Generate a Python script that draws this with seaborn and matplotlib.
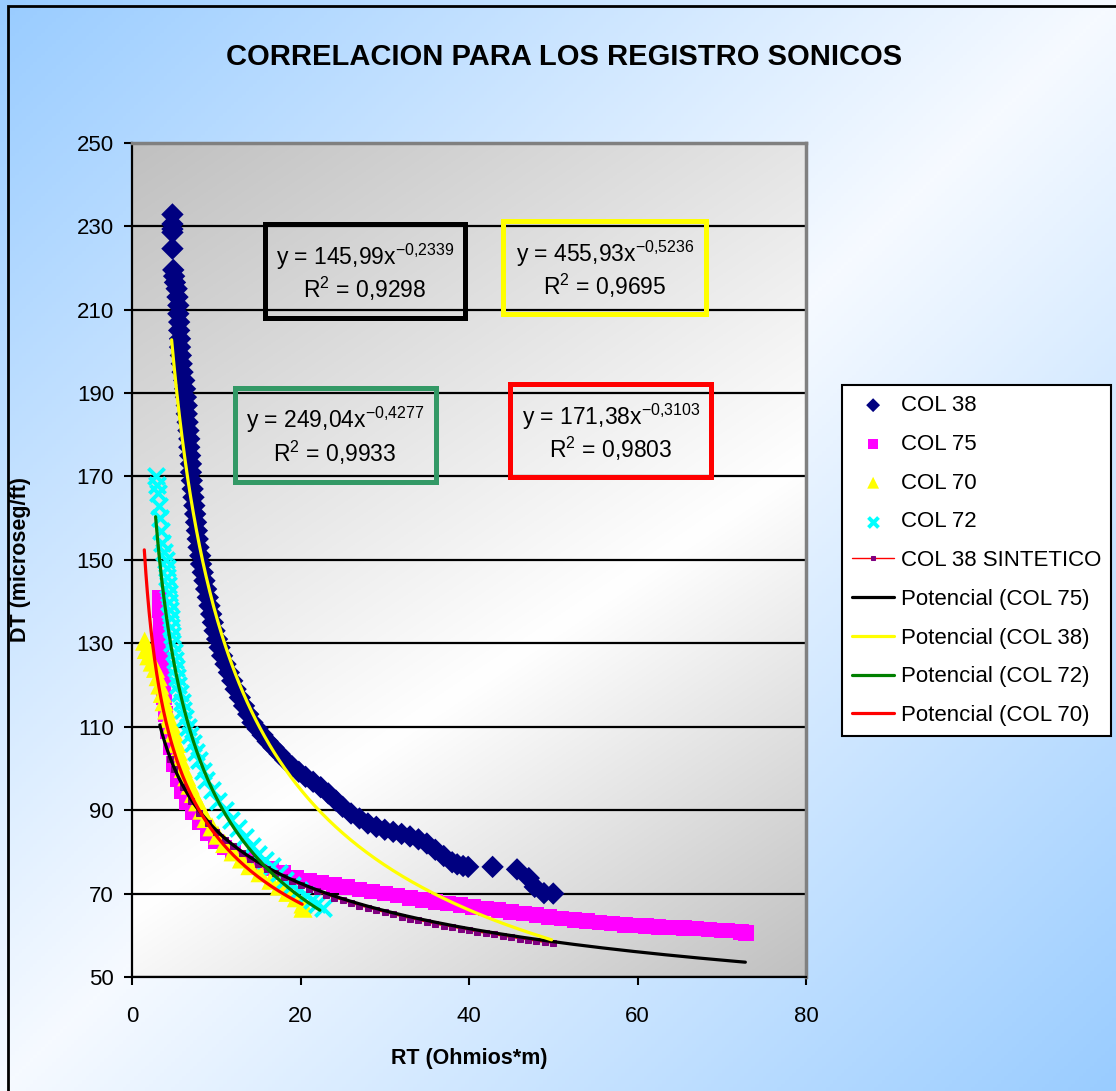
import numpy as np
import matplotlib
matplotlib.use("Agg")
import matplotlib.pyplot as plt
from matplotlib.patches import Rectangle
import seaborn as sns

# ---- data ----
col38_rt = [4.8, 4.8, 4.8, 4.8, 4.8, 4.9, 5.0, 5.1, 5.3, 5.4, 5.5, 5.5, 5.6, 5.6, 5.7, 5.7, 5.8, 5.9, 6.0,
            6.2, 6.3, 6.4, 6.5, 6.5, 6.6, 6.7, 6.8, 6.8, 6.9, 7.0, 7.0, 7.1, 7.2, 7.3, 7.4, 7.5, 7.6, 7.7,
            7.8, 7.9, 8.1, 8.2, 8.4, 8.6, 8.8, 9.0, 9.2, 9.4, 9.6, 9.8, 10.1, 10.4, 10.7, 11.1, 11.5, 11.9,
            12.3, 12.8, 13.3, 13.8, 14.3, 14.9, 15.5, 16.1, 16.8, 17.5, 18.2, 19.0, 19.8, 20.6, 21.5, 22.4,
            23.3, 24.2, 25.0, 26.0, 27.0, 28.0, 29.0, 30.0, 31.0, 32.0, 33.0, 34.0, 35.0, 36.0, 37.0, 38.0,
            38.6, 39.3, 39.9, 42.8, 45.7, 47.1, 47.8, 48.9, 50.0]
col38_dt = [232.8, 230.5, 229.3, 228.5, 224.6, 219.5, 218, 216.5, 215, 213, 211, 209, 207, 205, 203, 201, 199,
            197, 195, 193, 191, 189, 187, 185, 183, 181, 179, 177, 175, 173, 171, 169, 167, 165, 163, 161,
            159, 157, 155, 153, 151, 149, 147, 145, 143, 141, 139, 137, 135, 133, 131, 129, 127, 125, 123,
            121, 119, 117, 115, 113, 111, 109.5, 108, 106.5, 105, 103.5, 102, 100.5, 99.2, 98, 96.8, 95.5,
            94, 92.3, 90.8, 89.2, 88, 86.8, 86, 85.3, 84.8, 84.3, 83.7, 83, 82, 80.5, 79, 77.5,
            77, 76.6, 76.4, 76.4, 75.8, 73.7, 71.6, 70.1, 70.0]

col75_rt = [3.3, 3.3, 3.4, 3.4, 3.5, 3.5, 3.6, 3.7, 3.8, 4.0, 4.3, 4.6, 5.0, 5.4, 5.9, 6.5, 7.2, 8.0, 9.0,
            10.0, 11.0, 12.0, 13.5, 15.0, 16.5, 18.0, 19.5, 21.0, 22.5, 24.0, 25.5, 27.0, 28.5, 30.0, 31.5,
            33.0, 34.5, 36.0, 37.5, 39.0, 40.5, 42.0, 43.5, 45.0, 46.5, 48.0, 49.5, 51.0, 52.5, 54.0, 55.5,
            57.0, 58.5, 60.0, 61.0, 62.5, 64.0, 65.5, 67.0, 68.5, 70.0, 70.7, 72.3, 72.9]
col75_dt = [141, 138, 135, 132, 129, 126, 123, 120, 117, 113, 109, 105, 101, 97.5, 94.5, 92, 89.5, 87, 84.5,
            82.5, 81, 79.8, 78.3, 77, 76, 75, 73.8, 73.1, 72.6, 72.1, 71.6, 71.0, 70.5, 70.0, 69.5,
            69.0, 68.5, 68.0, 67.6, 67.2, 66.8, 66.4, 66.0, 65.6, 65.2, 64.8, 64.4, 64.0, 63.7, 63.4, 63.1,
            62.8, 62.5, 62.3, 62.2, 62.0, 61.9, 61.8, 61.6, 61.4, 61.2, 61.1, 60.8, 60.6]

col70_rt = [1.5, 1.7, 2.0, 2.4, 2.8, 3.1, 3.3, 3.6, 3.8, 4.1, 4.4, 4.7, 5.0, 5.3, 5.5, 5.8, 6.1, 6.5, 6.9,
            7.3, 7.8, 8.3, 8.8, 9.5, 10.2, 11.0, 12.0, 13.0, 14.0, 15.2, 16.5, 17.5, 18.5, 19.5, 20.3, 20.3]
col70_dt = [130.5, 128.5, 127, 125.5, 124, 122, 120, 118, 116, 114, 112, 110.5, 108.5, 106, 104, 102, 100, 98,
            96, 94, 92, 90, 88, 86, 84, 82, 80, 78.3, 76.7, 75, 73.2, 71.8, 70.3, 69, 67.5, 66.5]

col72_rt = [2.9, 3.0, 3.1, 3.2, 3.3, 3.45, 3.6, 3.8, 4.0, 4.1, 4.2, 4.3, 4.35, 4.45, 4.5, 4.6, 4.65, 4.75,
            4.8, 4.95, 5.05, 5.2, 5.35, 5.5, 5.7, 5.9, 6.1, 6.35, 6.6, 6.9, 7.2, 7.55, 7.9, 8.4, 8.8, 9.5,
            10.2, 11.0, 11.8, 12.6, 13.4, 14.2, 15.0, 15.8, 16.6, 17.4, 18.2, 19.0, 19.8, 20.6, 21.4, 22.0, 22.7]
col72_dt = [170, 168, 166, 163, 160, 157, 154, 152, 150, 148, 146, 144, 142, 140, 138, 136, 134, 132,
            130, 128, 126, 124, 122, 120, 118, 116, 114, 112, 110, 108, 106, 104, 102, 99.5, 97.2, 94.8,
            92.2, 90, 87.6, 85.6, 83.5, 81.5, 79.6, 78, 76.5, 75, 73.3, 72, 70.8, 69.6, 68.4, 67.5, 66.6]

sint_rt = [4.5, 5, 6, 7, 8, 9, 10, 11, 12, 13, 14, 15, 16, 17, 18, 19, 20, 21, 22, 23, 24, 25, 26, 27,
           28, 29, 30, 31, 32, 33, 34, 35, 36, 37, 38, 39, 40, 41, 42, 43, 44, 45, 46, 47, 48, 49, 50]
sint_dt = [102.2, 99.8, 95.6, 92.2, 89.4, 86.9, 84.8, 82.9, 81.3, 79.7, 78.3, 77.1, 75.9, 74.9, 73.9,
           72.9, 72.1, 71.2, 70.5, 69.7, 69.0, 68.4, 67.7, 67.1, 66.6, 66.0, 65.5, 65.0, 64.5, 64.0,
           63.6, 63.2, 62.7, 62.3, 62.0, 61.6, 61.2, 60.8, 60.5, 60.2, 59.8, 59.5, 59.2, 58.9, 58.6,
           58.3, 58.1]

# power trendlines y = a * x^b (coefficients printed on the chart)
trend_names = ["COL 75", "COL 38", "COL 72", "COL 70"]
trend_a = [145.99, 455.93, 249.04, 171.38]
trend_b = [-0.2339, -0.5236, -0.4277, -0.3103]
trend_r2 = ["0,9298", "0,9695", "0,9933", "0,9803"]
trend_xmin = [3.3, 4.7, 2.8, 1.46]
trend_xmax = [72.8, 49.8, 22.3, 20.2]
trend_colors = ["black", "#FFFF00", "#008000", "#FF0000"]
box_colors = ["black", "#FFFF00", "#339966", "#FF0000"]

W, H = 1116, 1091

sns.set_theme(style="white")
plt.rcParams["font.family"] = ["Liberation Sans", "DejaVu Sans"]
plt.rcParams["mathtext.fontset"] = "custom"
plt.rcParams["mathtext.rm"] = "Liberation Sans"
plt.rcParams["mathtext.it"] = "Liberation Sans:italic"
plt.rcParams["mathtext.bf"] = "Liberation Sans:bold"
for key in ["text.color", "axes.labelcolor", "xtick.color", "ytick.color"]:
    plt.rcParams[key] = "black"

fig = plt.figure(figsize=(W / 100, H / 100), dpi=100)


def diag_gradient(edge, mid, wu=0.5, t_mid=0.5, n=300):
    """Linear diagonal gradient: edge colour at top-left and bottom-right corners, mid colour in between."""
    g = np.linspace(0, 1, n)
    U, V = np.meshgrid(g, g)
    t = wu * U + (1 - wu) * V
    w = np.where(t < t_mid, t / t_mid, (1 - t) / (1 - t_mid))
    edge = np.array(edge) / 255.0
    mid = np.array(mid) / 255.0
    return edge + (mid - edge) * w[..., None]


# figure background
bg = fig.add_axes([0, 0, 1, 1], zorder=-10)
bg.imshow(diag_gradient((153, 204, 255), (246, 250, 255)), aspect="auto", extent=(0, 1, 0, 1), origin="upper")
bg.axis("off")
fig.patches.append(Rectangle((8 / W, -0.1), 1.2, 1 - 6 / H + 0.1, transform=fig.transFigure,
                             fill=False, edgecolor="black", linewidth=2))

ax = fig.add_axes([132 / W, 1 - 977 / H, 674 / W, (977 - 142.7) / H])
ax.imshow(diag_gradient((192, 192, 192), (255, 255, 255), wu=0.35, t_mid=0.6), aspect="auto",
          extent=(0, 1, 0, 1), transform=ax.transAxes, origin="upper", zorder=0)

sns.scatterplot(x=col38_rt, y=col38_dt, marker="D", s=130, color="#000080", edgecolor="none",
                linewidth=0, ax=ax, label="COL 38", zorder=3)
sns.scatterplot(x=col75_rt, y=col75_dt, marker="s", s=125, color="#FF00FF", edgecolor="none",
                linewidth=0, ax=ax, label="COL 75", zorder=3)
sns.scatterplot(x=col70_rt, y=col70_dt, marker="^", s=190, color="#FFFF00", edgecolor="none",
                linewidth=0, ax=ax, label="COL 70", zorder=3)
sns.scatterplot(x=col72_rt, y=col72_dt, marker="x", s=135, color="#00FFFF", linewidth=2.8,
                ax=ax, label="COL 72", zorder=3)
sns.lineplot(x=sint_rt, y=sint_dt, color="#FF0000", lw=1, marker="s", markersize=4.5,
             markerfacecolor="#800080", markeredgecolor="#800080", sort=False, estimator=None,
             ax=ax, label="COL 38 SINTETICO", zorder=3)

for name, a, b, x0, x1, c in zip(trend_names, trend_a, trend_b, trend_xmin, trend_xmax, trend_colors):
    xs = np.geomspace(x0, x1, 200)
    sns.lineplot(x=xs, y=a * xs ** b, color=c, lw=2.3, sort=False, estimator=None, ax=ax,
                 label=f"Potencial ({name})", zorder=4)

# equation boxes (axes fractions)
box_ext = [(0.1973, 0.7899, 0.4941, 0.9026), (0.5504, 0.7947, 0.8516, 0.9062),
           (0.1528, 0.5933, 0.4510, 0.7060), (0.5608, 0.5993, 0.8591, 0.7108)]
box_text = [(0.3457, 0.8534, 0.8139), (0.7018, 0.8574, 0.8174),
            (0.3012, 0.6577, 0.6176), (0.7107, 0.6616, 0.6217)]
for (l, btm, r, t), (cx, y1, y2), a, b, r2, ec in zip(box_ext, box_text, trend_a, trend_b, trend_r2, box_colors):
    ax.add_patch(Rectangle((l, btm), r - l, t - btm, transform=ax.transAxes, fill=False,
                           edgecolor=ec, linewidth=3.6, zorder=5))
    coef = f"{a:.2f}".replace(".", ",")
    expo = f"{b:.4f}".replace(".", "{,}")
    ax.text(cx, y1, f"y = {coef}x$^{{{expo}}}$", transform=ax.transAxes, ha="center", va="baseline",
            fontsize=16.5, zorder=6)
    ax.text(cx, y2, f"R$^2$ = {r2}", transform=ax.transAxes, ha="center", va="baseline",
            fontsize=16.5, zorder=6)

ax.set_xlim(0, 80)
ax.set_ylim(50, 250)
ax.set_xticks(np.arange(0, 81, 20))
ax.set_yticks(np.arange(50, 251, 20))
ax.set_axisbelow(True)
ax.grid(axis="y", color="black", linewidth=1.6)
ax.grid(axis="x", visible=False)
for side in ["left", "bottom"]:
    ax.spines[side].set_color("black")
    ax.spines[side].set_linewidth(1.6)
for side in ["top", "right"]:
    ax.spines[side].set_color("#808080")
    ax.spines[side].set_linewidth(2.5)
ax.tick_params(axis="both", direction="out", length=6, width=1.5, color="black",
               labelsize=16, bottom=True, left=True)
ax.tick_params(axis="x", pad=15)
ax.tick_params(axis="y", pad=7)

ax.set_xlabel("RT (Ohmios*m)", fontsize=15.5, fontweight="bold")
ax.set_ylabel("DT (microseg/ft)", fontsize=15.5, fontweight="bold")
ax.xaxis.set_label_coords(0.5, -0.085)
ax.yaxis.set_label_coords(-0.150, 0.5)

fig.text(564.5 / W, 1 - 57 / H, "CORRELACION PARA LOS REGISTRO SONICOS", ha="center", va="center",
         fontsize=21, fontweight="bold")

handles, labels = ax.get_legend_handles_labels()
ax.get_legend().remove()
leg = fig.legend(handles, labels, loc="upper left", bbox_to_anchor=(842 / W, 1 - 385 / H),
                 bbox_transform=fig.transFigure, borderaxespad=0, fontsize=16, frameon=True,
                 fancybox=False, framealpha=1, facecolor="white", edgecolor="black",
                 labelspacing=0.8, borderpad=0.45, handlelength=1.9, handletextpad=0.3,
                 scatterpoints=1, markerscale=0.62)
leg.get_frame().set_linewidth(1.5)

fig.savefig("out.png", dpi=100)
